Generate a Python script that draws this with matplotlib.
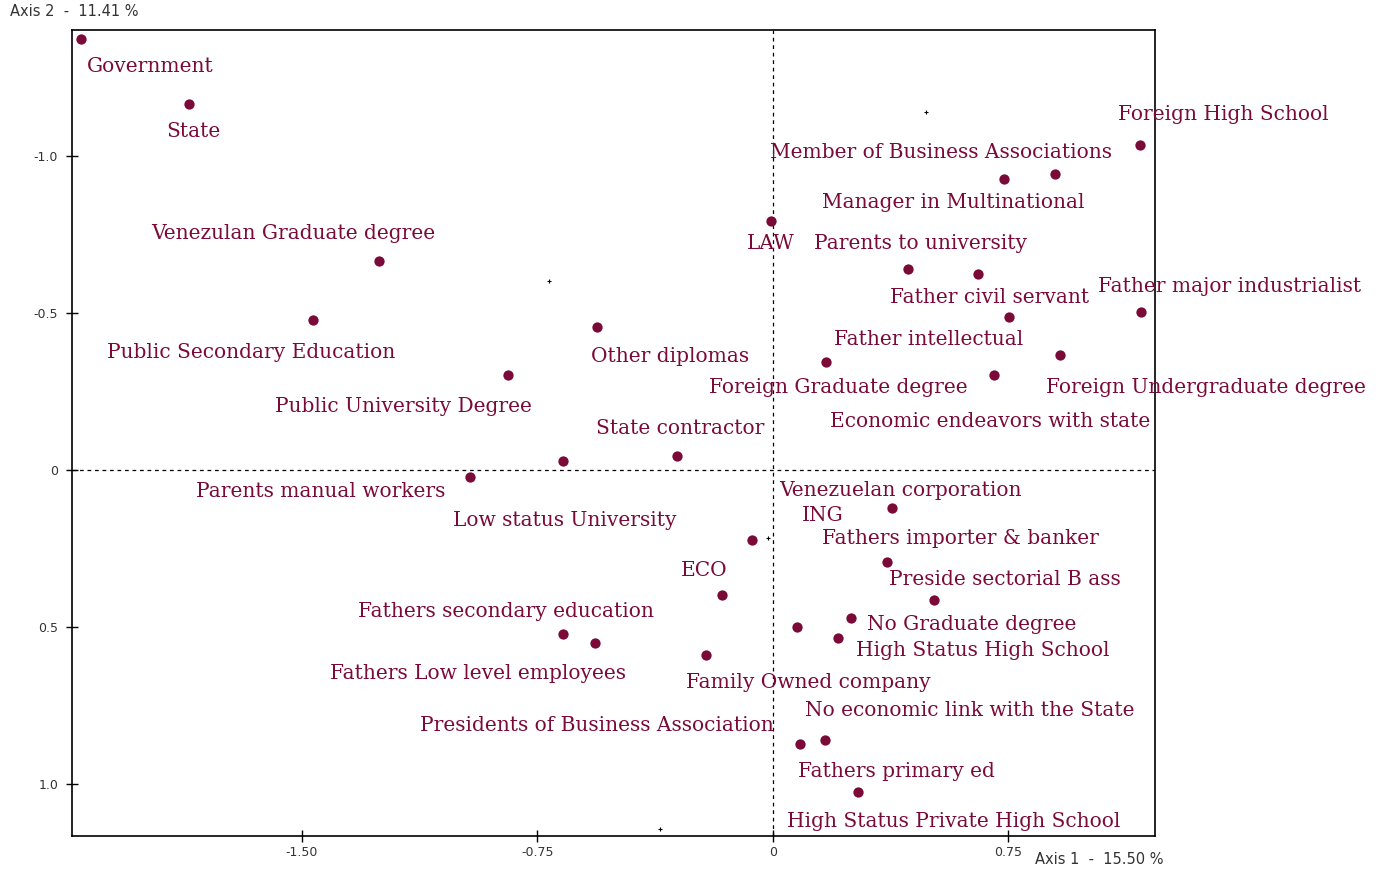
import matplotlib
matplotlib.use("Agg")
import matplotlib.pyplot as plt

# Active points (Axis 1, Axis 2)
pt_x = [-2.204, -1.860, -1.255, -1.465, -0.844, -0.561, -0.306, -0.669, -0.965,
        -0.067, -0.162, -0.669, -0.567, -0.213, 0.076, 0.207, 0.248, 0.513,
        0.363, 0.379, 0.086, 0.166, 0.271, -0.006, 0.430, 0.653, 0.736, 0.898,
        1.169, 1.172, 0.914, 0.752, 0.704, 0.169]
pt_y = [-1.373, -1.166, -0.666, -0.478, -0.303, -0.455, -0.045, -0.029, 0.022,
        0.223, 0.398, 0.522, 0.551, 0.589, 0.500, 0.535, 0.471, 0.414,
        0.293, 0.121, 0.873, 0.860, 1.025, -0.793, -0.640, -0.624, -0.927, -0.943,
        -1.035, -0.503, -0.366, -0.487, -0.303, -0.344]

# Supplementary (small) points
sup_x = [0.487, -0.712, -0.016, -0.360]
sup_y = [-1.140, -0.602, 0.217, 1.143]

# Labels and their positions
labels = ["Government", "State", "Venezulan Graduate degree", "Public Secondary Education",
          "Public University Degree", "Other diplomas", "State contractor",
          "Parents manual workers", "Low status University", "ECO",
          "Fathers secondary education", "Fathers Low level employees",
          "Family Owned company", "Presidents of Business Association",
          "Venezuelan corporation", "ING", "Fathers importer & banker",
          "Preside sectorial B ass", "No Graduate degree", "High Status High School",
          "No economic link with the State", "Fathers primary ed",
          "High Status Private High School", "Foreign High School",
          "Member of Business Associations", "Manager in Multinational", "LAW",
          "Parents to university", "Father civil servant", "Father major industrialist",
          "Father intellectual", "Foreign Graduate degree", "Foreign Undergraduate degree",
          "Economic endeavors with state"]
lab_x = [-1.984, -1.844, -1.529, -1.662, -1.178, -0.328, -0.296, -1.439, -0.663, -0.220,
         -0.850, -0.939, 0.112, -0.560, 0.405, 0.159, 0.596, 0.739, 0.634, 0.669,
         0.627, 0.392, 0.576, 1.433, 0.535, 0.576, -0.006, 0.471, 0.691, 1.456,
         0.497, 0.210, 1.379, 0.691]
lab_y = [-1.286, -1.079, -0.753, -0.374, -0.203, -0.362, -0.133, 0.068, 0.160, 0.319,
         0.450, 0.647, 0.676, 0.813, 0.065, 0.144, 0.217, 0.348, 0.491, 0.574,
         0.765, 0.959, 1.119, -1.133, -1.012, -0.853, -0.722, -0.722, -0.550, -0.585,
         -0.416, -0.264, -0.264, -0.155]

tick_x = [-1.50, -0.75, 0, 0.75]
tick_x_labels = ["-1.50", "-0.75", "0", "0.75"]
tick_y = [-1.0, -0.5, 0, 0.5, 1.0]
tick_y_labels = ["-1.0", "-0.5", "0", "0.5", "1.0"]

COL = "#7a0a38"

fig = plt.figure(figsize=(13.82, 8.69), dpi=100)
ax = fig.add_axes([72/1382, 33/869, 1083/1382, 806/869])
ax.set_xlim(-2.232, 1.217)
ax.set_ylim(1.166, -1.401)

ax.axhline(0, color="black", lw=0.9, ls=(0, (3, 3)), zorder=1)
ax.axvline(0, color="black", lw=0.9, ls=(0, (3, 3)), zorder=1)

ax.scatter(pt_x, pt_y, s=55, color=COL, zorder=3, linewidths=0)
ax.scatter(sup_x, sup_y, s=8, marker="+", color="black", zorder=3, linewidths=0.8)

for t, x, y in zip(labels, lab_x, lab_y):
    ax.text(x, y, t, ha="center", va="center", color=COL,
            fontsize=14.5, family="DejaVu Serif", zorder=4)

ax.set_xticks(tick_x)
ax.set_xticklabels(tick_x_labels)
ax.set_yticks(tick_y)
ax.set_yticklabels(tick_y_labels)
ax.tick_params(direction="inout", length=8, width=1, labelsize=9, labelcolor="#333333")
ax.tick_params(axis="x", pad=3)
ax.tick_params(axis="y", pad=6)
for s in ax.spines.values():
    s.set_linewidth(1.2)

fig.text(10/1382, 1 - 12/869, "Axis 2  -  11.41 %", fontsize=10.5, color="#333333",
         ha="left", va="center")
fig.text(1035/1382, 1 - 860/869, "Axis 1  -  15.50 %", fontsize=10.5, color="#333333",
         ha="left", va="center")

fig.savefig("out.png", dpi=100)
